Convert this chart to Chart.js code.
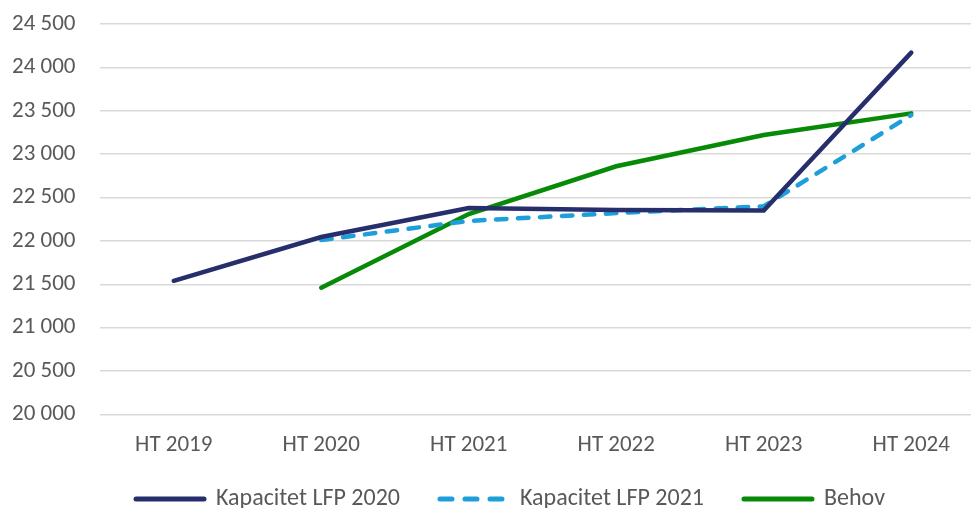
<!DOCTYPE html>
<html>
<head>
<meta charset="utf-8">
<script src="https://cdn.jsdelivr.net/npm/chart.js@4"></script>
<style>
  html, body { margin: 0; padding: 0; background: #fff; overflow: hidden; }
  #wrap { width: 985px; height: 508px; }
</style>
</head>
<body>
<div id="wrap"><canvas id="kapChart"></canvas></div>
<script>
const categories = ["HT 2019", "HT 2020", "HT 2021", "HT 2022", "HT 2023", "HT 2024"];
const kapacitet2020 = [21540, 22045, 22380, 22355, 22350, 24170];
const kapacitet2021 = [null, 22010, 22230, 22320, 22400, 23450];
const behov = [null, 21460, 22310, 22860, 23220, 23470];
const yMin = 20000;
const yMax = 24500;
const yStep = 500;

function fmt(v) {
  return String(v).replace(/\B(?=(\d{3})+(?!\d))/g, " ");
}

const font = "Carlito, Lato, 'Liberation Sans', sans-serif";

// the legend in the original sits left of centre and low, move it over
const legendShift = {
  id: "legendShift",
  afterLayout(chart) {
    const lg = chart.legend;
    lg.left += 84;
    lg.right += 84;
    lg.top = 447;
    lg.bottom = 508;
  }
};

new Chart(document.getElementById("kapChart"), {
  type: "line",
  data: {
    labels: categories,
    datasets: [
      {
        label: "Kapacitet LFP 2020",
        data: kapacitet2020,
        borderColor: "#262e6c",
        borderWidth: 4.5,
        borderCapStyle: "round",
        pointRadius: 0,
        pointStyle: "line",
        tension: 0
      },
      {
        label: "Kapacitet LFP 2021",
        data: kapacitet2021,
        borderColor: "#1e9fda",
        borderWidth: 4.5,
        borderDash: [10.5, 11.5],
        borderCapStyle: "round",
        pointRadius: 0,
        pointStyle: "line",
        tension: 0
      },
      {
        label: "Behov",
        data: behov,
        borderColor: "#078a07",
        borderWidth: 4.5,
        borderCapStyle: "round",
        pointRadius: 0,
        pointStyle: "line",
        tension: 0
      }
    ]
  },
  options: {
    responsive: true,
    maintainAspectRatio: false,
    animation: false,
    layout: { padding: { left: 12, right: 0, top: 24, bottom: 0 } },
    plugins: {
      tooltip: { enabled: false },
      legend: {
        position: "bottom",
        align: "start",
        maxHeight: 32,
        labels: {
          usePointStyle: true,
          pointStyleWidth: 68,
          boxHeight: 5,
          padding: 40,
          color: "#595959",
          font: { family: font, size: 24 },
          generateLabels: (chart) => {
            const items = Chart.defaults.plugins.legend.labels.generateLabels(chart);
            items.forEach((it) => {
              const ds = chart.data.datasets[it.datasetIndex];
              it.lineWidth = 5;
              it.lineCap = "round";
              it.lineDash = ds.borderDash ? [12, 13] : [];
            });
            return items;
          }
        }
      }
    },
    scales: {
      x: {
        offset: true,
        grid: { display: false, drawTicks: false },
        border: { display: false },
        ticks: { color: "#595959", font: { family: font, size: 23 }, padding: 17 }
      },
      y: {
        min: yMin,
        max: yMax,
        ticks: {
          stepSize: yStep,
          color: "#595959",
          font: { family: font, size: 23 },
          padding: 0,
          crossAlign: "far",
          callback: (v) => fmt(v)
        },
        grid: { color: "#d9d9d9", lineWidth: 1.5, drawTicks: false },
        border: { display: false },
        afterFit: (s) => { s.width = 88; }
      }
    }
  },
  plugins: [legendShift]
});
</script>
</body>
</html>
